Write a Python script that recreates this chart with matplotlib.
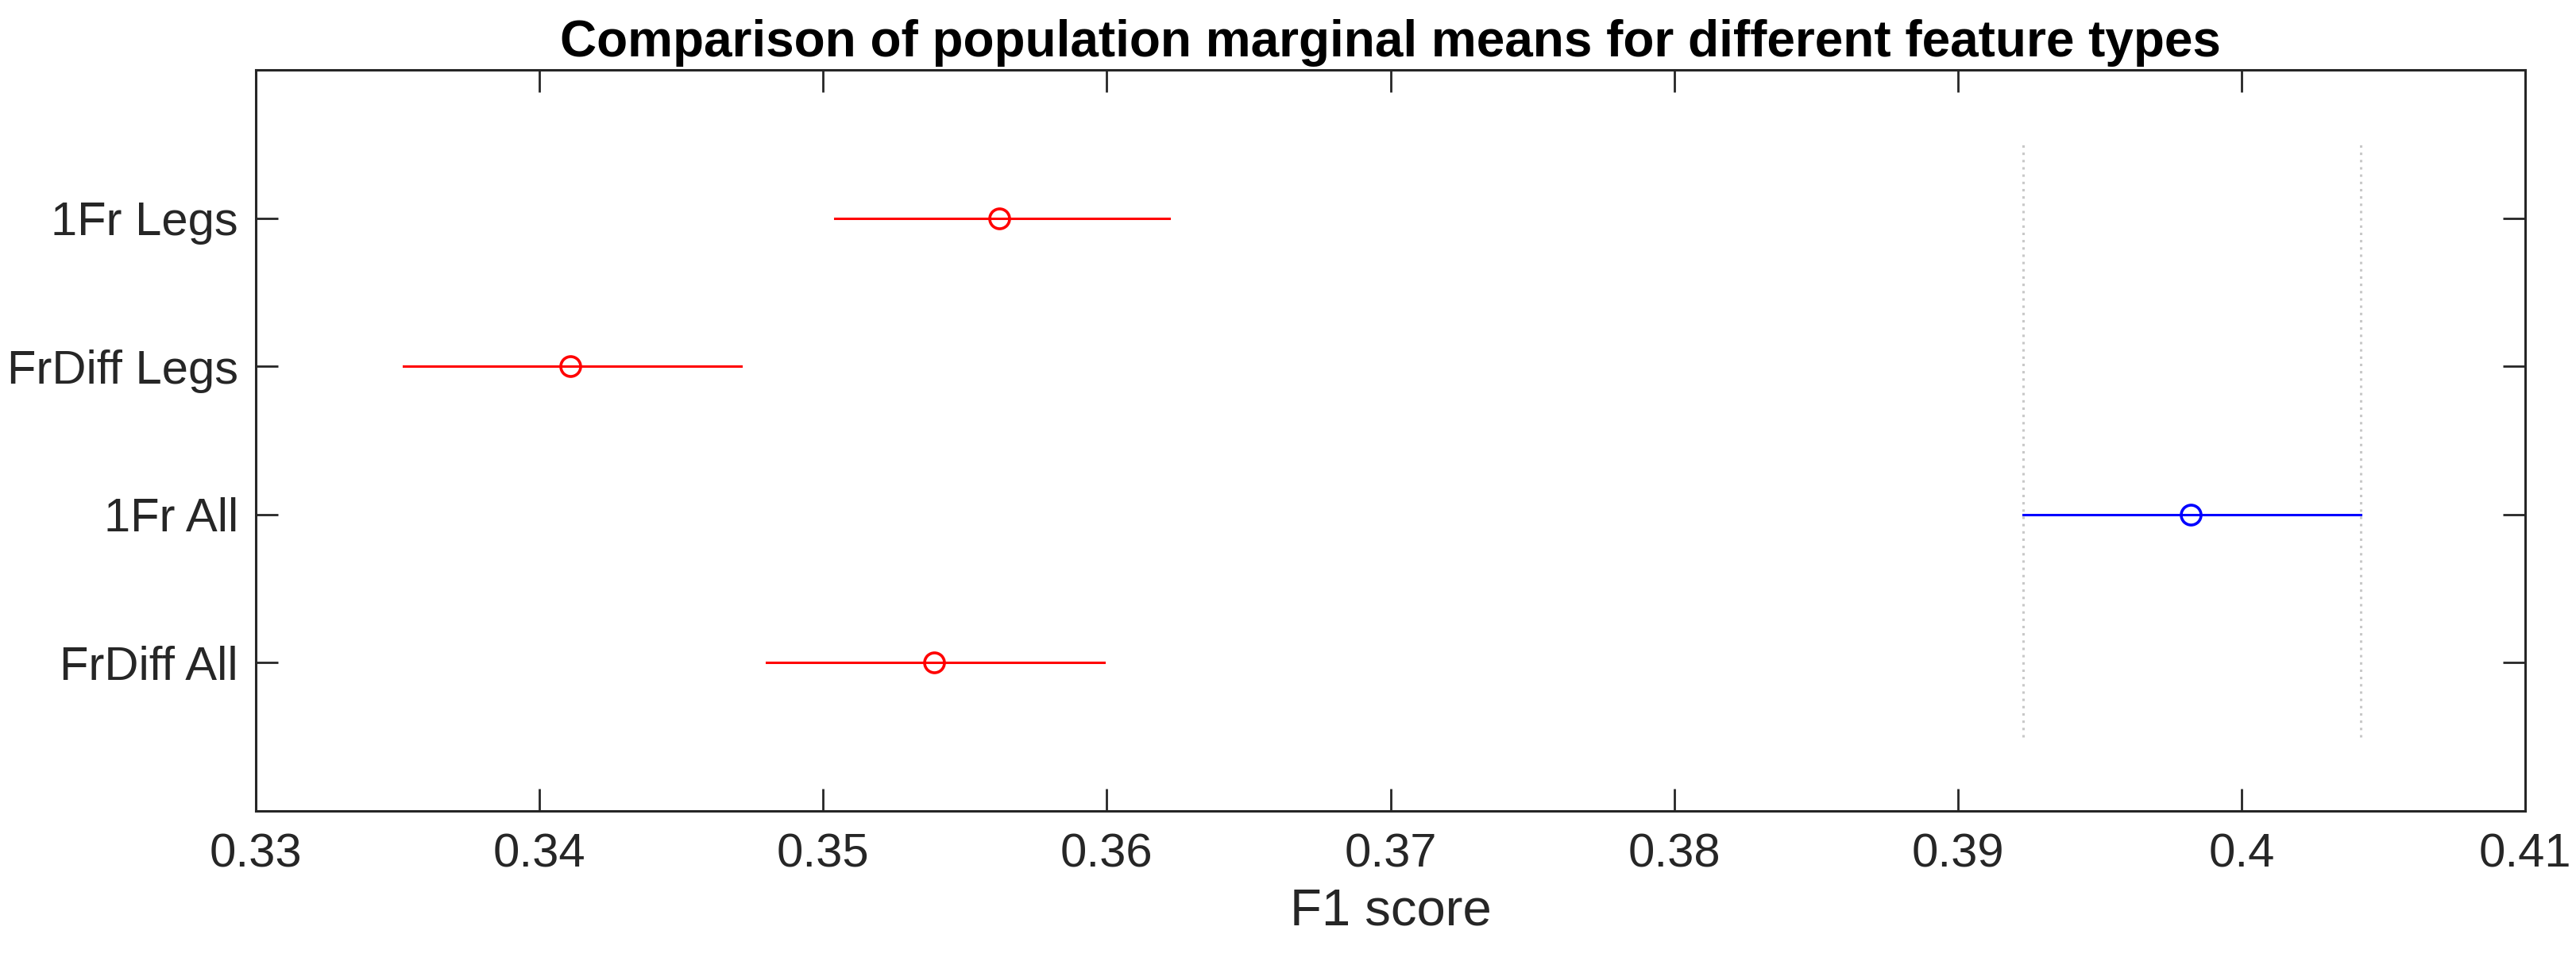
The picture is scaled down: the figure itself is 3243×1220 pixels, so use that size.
import matplotlib
matplotlib.use("Agg")
import matplotlib.pyplot as plt

# ---- data ----
labels = ['1Fr Legs', 'FrDiff Legs', '1Fr All', 'FrDiff All']
means = [0.3562, 0.3411, 0.3982, 0.3539]
lower = [0.3504, 0.3352, 0.3923, 0.3480]
upper = [0.3622, 0.3471, 0.4042, 0.3599]
colors = ['red', 'red', 'blue', 'red']
selected = 2
xticks = [0.33, 0.34, 0.35, 0.36, 0.37, 0.38, 0.39, 0.40, 0.41]
xticklabels = ['0.33', '0.34', '0.35', '0.36', '0.37', '0.38', '0.39', '0.4', '0.41']

TXT = '#262626'
plt.rcParams['font.family'] = ['Liberation Sans', 'DejaVu Sans']

fig = plt.figure(figsize=(32.43, 12.2), dpi=100)
ax = fig.add_axes([0.0993, 0.1631, 0.8810, 0.7648])

n = len(labels)
ypos = [n - i for i in range(n)]

# reference lines at the selected group's interval
ax.vlines([lower[selected], upper[selected]], 0.5, n + 0.5,
          colors='#c8c8c8', linestyles=(0, (1, 2)), linewidth=2.2, zorder=1)

for y, m, lo, hi, c in zip(ypos, means, lower, upper, colors):
    ax.plot([lo, hi], [y, y], color=c, linewidth=2.2, zorder=2)
    ax.plot([m], [y], marker='o', markersize=18, markerfacecolor='none',
            markeredgecolor=c, markeredgewidth=2.6, linestyle='none', zorder=3)

ax.set_xlim(0.33, 0.41)
ax.set_ylim(0, n + 1)
ax.set_xticks(xticks)
ax.set_xticklabels(xticklabels)
ax.set_yticks(ypos)
ax.set_yticklabels(labels)

ax.tick_params(axis='both', direction='in', length=20, width=2.0, colors=TXT,
               labelsize=43, top=True, right=True)
ax.tick_params(axis='x', pad=20)
ax.tick_params(axis='y', pad=16)
for s in ax.spines.values():
    s.set_linewidth(2.2)
    s.set_color(TXT)

ax.set_xlabel('F1 score', fontsize=47, color=TXT, labelpad=10)
ax.set_title('Comparison of population marginal means for different feature types',
             fontsize=46, fontweight='bold', color='black', pad=12)

fig.savefig('out.png', dpi=100, facecolor='white')
